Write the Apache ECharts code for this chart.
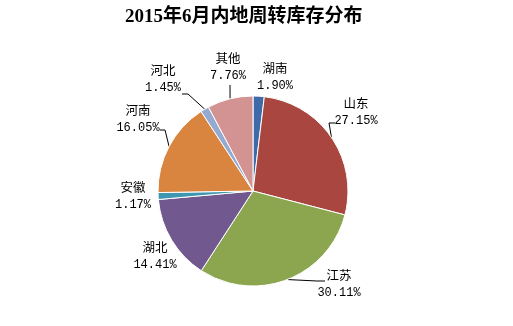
<!DOCTYPE html>
<html>
<head>
<meta charset="utf-8">
<script src="https://cdn.jsdelivr.net/npm/echarts@6/dist/echarts.min.js"></script>
<style>
html, body { margin: 0; padding: 0; background: #fff; }
#chart { width: 513px; height: 326px; }
</style>
</head>
<body>
<div id="chart"></div>
<script>
// Regional shares of inland turnover inventory, June 2015 (%)
const regions = ['湖南', '山东', '江苏', '湖北', '安徽', '河南', '河北', '其他'];
const shares = [1.90, 27.15, 30.11, 14.41, 1.17, 16.05, 1.45, 7.76];
const sliceColors = ['#3F6AAA', '#A9463F', '#8CA650', '#71588F', '#3E96B0', '#DA853F', '#95AAD0', '#D39393'];

// Where each callout sits (centre of its two-line block) and, if it has one,
// the elbow and end of its leader line.
const calloutSpots = {
  '湖南': { at: [275, 77] },
  '山东': { at: [356, 112], guide: [[329, 123], [335, 123]] },
  '江苏': { at: [339, 284], guide: [[317, 281], [325, 281]] },
  '湖北': { at: [155, 256] },
  '安徽': { at: [133, 196] },
  '河南': { at: [138, 119], guide: [[165, 130], [160, 130]] },
  '河北': { at: [163, 79], guide: [[188, 94], [182, 94]] },
  '其他': { at: [228, 67], guide: [[230, 86], [230, 85]] }
};

const chart = echarts.init(document.getElementById('chart'));
chart.setOption({
  backgroundColor: '#fff',
  animation: false,
  title: {
    text: '2015年6月内地周转库存分布',
    left: 120,
    top: 3,
    textStyle: {
      fontFamily: '"Liberation Serif", "Noto Sans CJK SC", serif',
      fontSize: 19,
      fontWeight: 'bold',
      color: '#000'
    }
  },
  series: [{
    type: 'pie',
    center: [253, 191],
    radius: 95,
    startAngle: 90,
    clockwise: true,
    data: regions.map((name, i) => ({
      name: name,
      value: shares[i],
      itemStyle: { color: sliceColors[i] },
      labelLine: { show: !!calloutSpots[name].guide }
    })),
    itemStyle: { borderColor: '#fff', borderWidth: 1 },
    label: {
      show: true,
      position: 'outside',
      formatter: p => '{n|' + p.name + '}\n{v|' + p.value.toFixed(2) + '%}',
      rich: {
        n: { fontFamily: '"Noto Sans CJK SC", sans-serif', fontSize: 12.5, color: '#000', lineHeight: 18, align: 'center' },
        v: { fontFamily: '"Liberation Mono", "DejaVu Sans Mono", monospace', fontSize: 12, color: '#000', lineHeight: 17, align: 'center' }
      }
    },
    labelLine: {
      show: true,
      length: 8,
      length2: 8,
      lineStyle: { color: '#000', width: 1 }
    },
    labelLayout: function (params) {
      const spot = calloutSpots[regions[params.dataIndex]];
      const out = { x: spot.at[0], y: spot.at[1], align: 'center', verticalAlign: 'middle' };
      if (spot.guide && params.labelLinePoints) {
        out.labelLinePoints = [params.labelLinePoints[0], spot.guide[0], spot.guide[1]];
      }
      return out;
    }
  }]
});
</script>
</body>
</html>
